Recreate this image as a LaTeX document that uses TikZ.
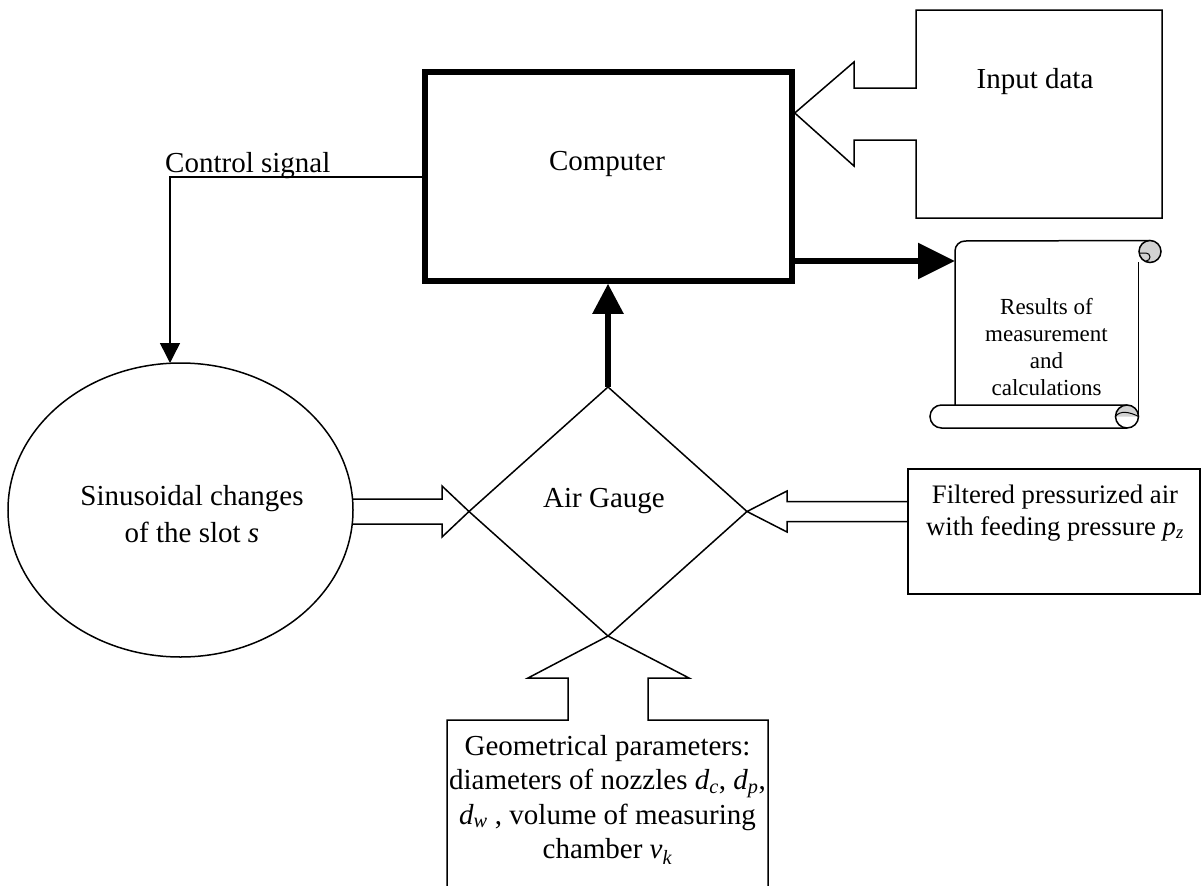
\documentclass[tikz,border=0pt]{standalone}
\usepackage{fontspec}
\setmainfont{Liberation Serif}
\usetikzlibrary{arrows.meta,shapes.geometric}
\newcommand\isub[2]{\textit{#1}\textsubscript{\textit{#2}}}
\begin{document}
\begin{tikzpicture}[x=1pt,y=-1pt,
  thinline/.style={line width=1.5pt, line join=miter},
  big/.style={font=\fontsize{29}{35}\selectfont, inner sep=0pt},
  small/.style={font=\fontsize{23}{27}\selectfont, inner sep=0pt},
  ]
\useasboundingbox (0,0) rectangle (1202,886);

% Computer
\node[draw, line width=5.5pt, minimum width=367pt, minimum height=209pt, inner sep=0pt] (comp) at (608.5,176.5) {};
\node[big, anchor=base] (comptxt) at (607,170) {Computer};

% Input data callout
\path (comp.east) ++(0,-63.5) coordinate (intip);
\draw[thinline] (916,88) -- (916,10) -- (1162,10) -- (1162,218) -- (916,218) -- (916,140) -- (854,140) -- (854,166) -- (intip) -- (854,62) -- (854,88) -- cycle;
\node[big, anchor=base] (intxt) at (1035,88) {Input data};

% Control signal
\coordinate (ctl) at (170,177);
\node[draw, thinline, ellipse, minimum width=345pt, minimum height=294pt, inner sep=0pt, outer sep=0pt] (ell) at (180.5,510) {};
\draw[thinline, -{Triangle[length=20pt,width=20pt]}] (comp.west |- ctl) -- (ctl) -- (ctl |- ell.north);
\node[big, anchor=base west] (ctltxt) at (165,172) {Control signal};
\node[big, anchor=base, align=center, font=\fontsize{29}{37}\selectfont] (elltxt) at (192,542) {Sinusoidal changes\\of the slot \textit{s}};

% Air gauge
\node[draw, thinline, diamond, minimum width=278pt, minimum height=249pt, inner sep=0pt, outer sep=0pt] (gauge) at (608,511.5) {};
\node[big, anchor=base] (gtxt) at (604,507) {Air Gauge};
\draw[line width=5.5pt, -{Triangle[length=30pt,width=30pt]}] (gauge.north) -- (gauge.north |- comp.south);

% Results scroll
\coordinate (resin) at (955,261);
\draw[line width=6pt, -{Triangle[length=37pt,width=35pt]}] (comp.east |- resin) -- (resin);
\draw[thinline] (955,405) -- (955,251) arc[start angle=180, end angle=270, radius=10] -- (1150,240.5);
\filldraw[thinline, fill=gray!35] (1150,251.5) circle[radius=11];
\draw[line width=1pt] (1139,253) -- (1146,253) arc[start angle=270, end angle=450, radius=4];
\draw[thinline] (1138.5,262) -- (1138.5,416.5);
\draw[thinline] (1127,405) -- (941.5,405) arc[start angle=270, end angle=90, radius=11.5] -- (1127,428);
\fill[gray!35] (1115.5,416.5) arc[start angle=180, end angle=360, radius=11.5] -- cycle;
\draw[thinline] (1127,416.5) circle[radius=11.5];
\draw[line width=1pt] (1115.5,416.5) .. controls (1120,410) and (1130,412) .. (1138.5,416.5);
\node[small, anchor=base, align=center] (restxt) at (1046.5,395) {Results of\\measurement\\and\\calculations};

% Ellipse -> gauge hollow arrow
\draw[thinline] (352,499) -- (442,499) -- (442,486) -- (gauge.west) -- (442,537) -- (442,524) -- (352,524);

% Filtered air
\draw[thinline] (908,469) rectangle (1200,594);
\draw[thinline] (908,501.5) -- (787,501.5) -- (787,491) -- (gauge.east) -- (787,532) -- (787,521.5) -- (908,521.5);
\node[big, anchor=base, align=center, font=\fontsize{26.7}{32}\selectfont] (filttxt) at (1055,535) {Filtered pressurized air\\with feeding pressure \isub{p}{z}};

% Geometrical parameters
\draw[thinline] (447,890) -- (447,720) -- (568,720) -- (568,678) -- (528,678) -- (gauge.south) -- (689,678) -- (648,678) -- (648,720) -- (768,720) -- (768,890);
\node[big, anchor=base, align=center, font=\fontsize{29}{34.5}\selectfont] (geotxt) at (607.5,858.5) {Geometrical parameters:\\diameters of nozzles \isub{d}{c}, \isub{d}{p},\\\isub{d}{w} , volume of measuring\\chamber \isub{v}{k}};
\end{tikzpicture}
\end{document}
